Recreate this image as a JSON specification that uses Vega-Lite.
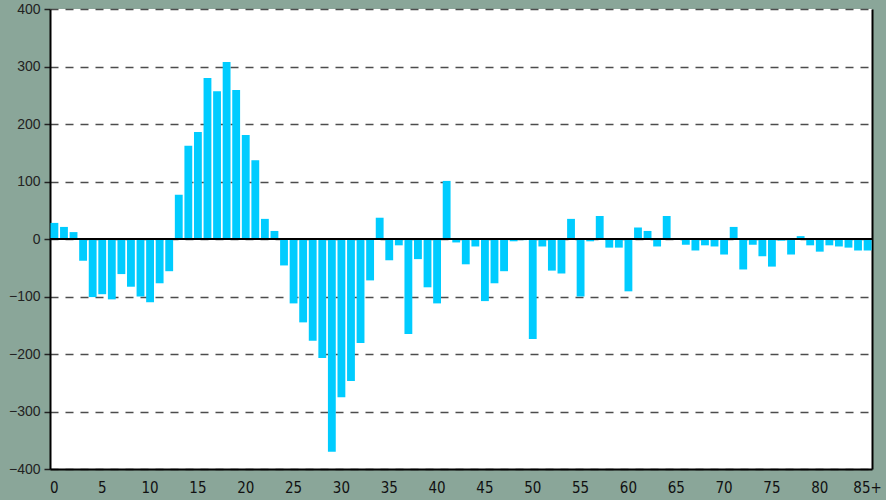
{
  "$schema": "https://vega.github.io/schema/vega-lite/v6.json",
  "width": 822,
  "height": 460,
  "autosize": {"type": "none"},
  "padding": {"left": 50, "top": 9, "right": 14, "bottom": 31},
  "background": "#8aa699",
  "config": {
    "view": {"fill": "white", "stroke": null},
    "axis": {"labelFont": "Liberation Sans", "titleFont": "Liberation Sans"}
  },
  "data": {
    "values": [
      {"age": "0", "v": 28}, {"age": "1", "v": 21}, {"age": "2", "v": 12}, {"age": "3", "v": -38},
      {"age": "4", "v": -101}, {"age": "5", "v": -96}, {"age": "6", "v": -105}, {"age": "7", "v": -61},
      {"age": "8", "v": -83}, {"age": "9", "v": -100}, {"age": "10", "v": -110}, {"age": "11", "v": -77},
      {"age": "12", "v": -56}, {"age": "13", "v": 77}, {"age": "14", "v": 162}, {"age": "15", "v": 186},
      {"age": "16", "v": 280}, {"age": "17", "v": 257}, {"age": "18", "v": 308}, {"age": "19", "v": 259},
      {"age": "20", "v": 181}, {"age": "21", "v": 137}, {"age": "22", "v": 35}, {"age": "23", "v": 14},
      {"age": "24", "v": -46}, {"age": "25", "v": -112}, {"age": "26", "v": -145}, {"age": "27", "v": -177},
      {"age": "28", "v": -207}, {"age": "29", "v": -370}, {"age": "30", "v": -275}, {"age": "31", "v": -247},
      {"age": "32", "v": -181}, {"age": "33", "v": -72}, {"age": "34", "v": 37}, {"age": "35", "v": -37},
      {"age": "36", "v": -11}, {"age": "37", "v": -165}, {"age": "38", "v": -35}, {"age": "39", "v": -84},
      {"age": "40", "v": -112}, {"age": "41", "v": 101}, {"age": "42", "v": -6}, {"age": "43", "v": -44},
      {"age": "44", "v": -13}, {"age": "45", "v": -108}, {"age": "46", "v": -77}, {"age": "47", "v": -56},
      {"age": "48", "v": -4}, {"age": "49", "v": -2}, {"age": "50", "v": -174}, {"age": "51", "v": -13},
      {"age": "52", "v": -55}, {"age": "53", "v": -60}, {"age": "54", "v": 35}, {"age": "55", "v": -100},
      {"age": "56", "v": -4}, {"age": "57", "v": 40}, {"age": "58", "v": -15}, {"age": "59", "v": -15},
      {"age": "60", "v": -91}, {"age": "61", "v": 20}, {"age": "62", "v": 14}, {"age": "63", "v": -13},
      {"age": "64", "v": 40}, {"age": "65", "v": 0}, {"age": "66", "v": -10}, {"age": "67", "v": -20},
      {"age": "68", "v": -11}, {"age": "69", "v": -13}, {"age": "70", "v": -27}, {"age": "71", "v": 21},
      {"age": "72", "v": -53}, {"age": "73", "v": -10}, {"age": "74", "v": -30}, {"age": "75", "v": -48},
      {"age": "76", "v": -3}, {"age": "77", "v": -27}, {"age": "78", "v": 5}, {"age": "79", "v": -11},
      {"age": "80", "v": -22}, {"age": "81", "v": -11}, {"age": "82", "v": -13}, {"age": "83", "v": -15},
      {"age": "84", "v": -20}, {"age": "85+", "v": -20}
    ]
  },
  "layer": [
    {
      "mark": {"type": "bar", "color": "#00ccff"},
      "encoding": {
        "x": {
          "field": "age", "type": "ordinal", "sort": null,
          "scale": {"paddingInner": 0.18, "paddingOuter": 0.05},
          "axis": {
            "title": null, "labelAngle": 0, "ticks": false,
            "values": ["0","5","10","15","20","25","30","35","40","45","50","55","60","65","70","75","80","85+"],
            "labelFont": "Liberation Sans Narrow, DejaVu Sans Condensed, sans-serif",
            "labelFontSize": 15, "labelColor": "#111", "labelPadding": 11,
            "domainColor": "black", "domainWidth": 2
          }
        },
        "y": {
          "field": "v", "type": "quantitative",
          "scale": {"domain": [-400, 400], "nice": false},
          "axis": {
            "title": null,
            "values": [-400, -300, -200, -100, 0, 100, 200, 300, 400],
            "labelFontSize": 14, "labelColor": "#222", "labelPadding": 4,
            "tickColor": "#222", "tickSize": 6, "tickWidth": 1.5,
            "domainColor": "black", "domainWidth": 2,
            "grid": true, "gridColor": "#4d4d4d", "gridWidth": 1.5, "gridDash": [8, 7]
          }
        }
      }
    },
    {
      "mark": {"type": "rule", "color": "black", "strokeWidth": 1.5},
      "encoding": {
        "y": {
          "datum": 0, "type": "quantitative",
          "axis": {
            "orient": "right", "title": null, "labels": false, "ticks": false,
            "grid": false, "domainColor": "black", "domainWidth": 2
          }
        }
      }
    }
  ],
  "resolve": {"axis": {"y": "independent"}}
}
